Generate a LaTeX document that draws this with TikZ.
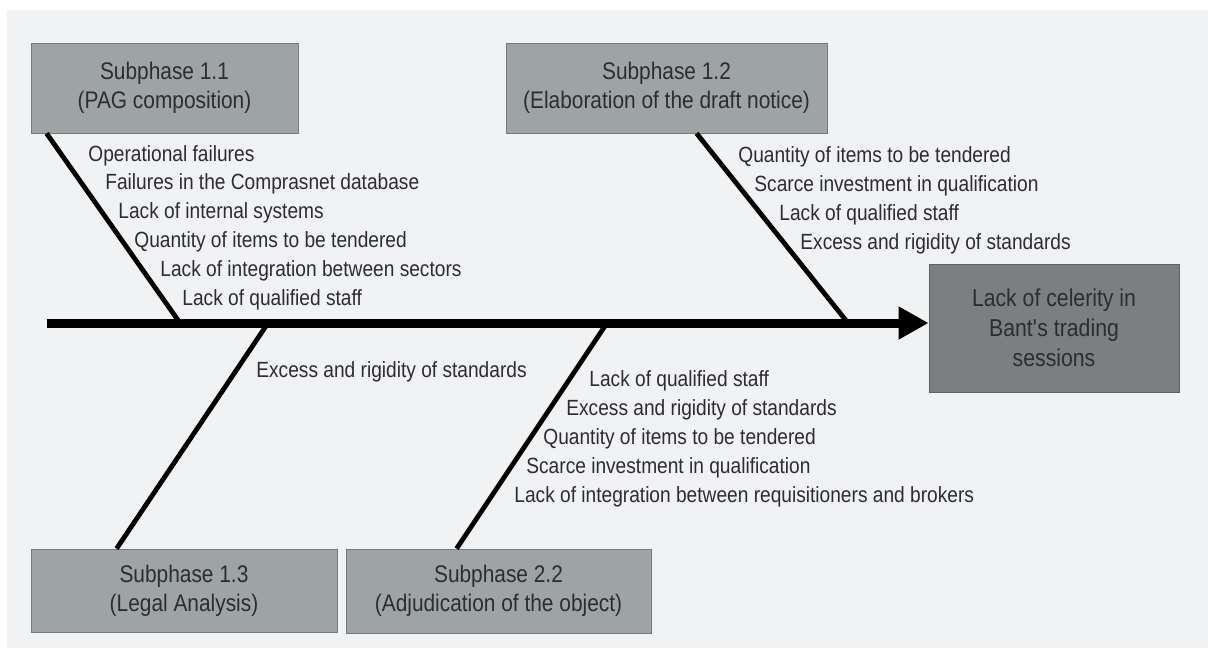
\documentclass[tikz,border=0pt]{standalone}
\usepackage{fontspec}
\setmainfont{Liberation Sans}[FakeStretch=0.87]
\usepackage{tikz}
\usetikzlibrary{arrows.meta, calc}
\usepackage{xcolor}
\definecolor{panel}{RGB}{241,242,244}
\definecolor{boxgray}{RGB}{158,163,163}
\definecolor{boxline}{RGB}{118,122,123}
\definecolor{effgray}{RGB}{124,127,128}
\definecolor{effline}{RGB}{95,98,98}
\definecolor{inkgray}{RGB}{45,45,47}

\begin{document}
\begin{tikzpicture}[
        x=0.5pt, y=-0.5pt,
        phase/.style={draw=boxline, fill=boxgray, inner sep=0pt, align=center,
                      text=inkgray, font=\fontsize{12}{14.5}\selectfont},
        effect/.style={draw=effline, fill=effgray, inner sep=0pt, align=center,
                       text=inkgray, font=\fontsize{12.2}{15}\selectfont,
                       minimum width=125pt, minimum height=64pt},
        cause/.style={anchor=west, inner sep=0pt, text=inkgray,
                      font=\fontsize{11}{13}\selectfont},
        rib/.style={line width=2.4pt, black},
        spine/.style={line width=4.5pt, black,
                      -{Triangle[length=15pt, width=15.5pt]}}
      ]
        \useasboundingbox (0,0) rectangle (1208,648);
        \fill[white] (0,0) rectangle (1208,648);
        \fill[panel] (7,10) rectangle (1208,648);

        % subphase boxes and the effect
        \node[phase, minimum width=133.5pt, minimum height=45pt] (sub11)
          at (164.5,88) {Subphase 1.1\\(PAG composition)};
        \node[phase, minimum width=160.5pt, minimum height=45pt] (sub12)
          at (666.5,88) {Subphase 1.2\\(Elaboration of the draft notice)};
        \node[phase, minimum width=153pt, minimum height=41.5pt] (sub13)
          at (184,590.5) {Subphase 1.3\\(Legal Analysis)};
        \node[phase, minimum width=152.5pt, minimum height=42pt] (sub22)
          at (498.5,591) {Subphase 2.2\\(Adjudication of the object)};
        \node[effect] (effect) at (1054,328)
          {Lack of celerity in\\Bant\textquotesingle s trading\\sessions};

        % spine and the points where the ribs meet it
        \coordinate (tail) at (47,323);
        \coordinate (j11) at (180,323);
        \coordinate (j12) at (848,323);
        \coordinate (j13) at (268,323);
        \coordinate (j22) at (607,323);

        \draw[rib] ($(sub11.south west)+(16,0)$) -- (j11);
        \draw[rib] ($(sub12.south west)+(191,0)$) -- (j12);
        \draw[rib] ($(sub13.north west)+(86,0)$) -- (j13);
        \draw[rib] ($(sub22.north west)+(111,0)$) -- (j22);
        \draw[spine] (tail) -- (tail -| effect.west);

        % causes of subphase 1.1
        \node[cause] (c11a) at (88,156) {Operational failures};
        \node[cause] (c11b) at (105,184) {Failures in the Comprasnet database};
        \node[cause] (c11c) at (118,213) {Lack of internal systems};
        \node[cause] (c11d) at (134,242) {Quantity of items to be tendered};
        \node[cause] (c11e) at (160,271) {Lack of integration between sectors};
        \node[cause] (c11f) at (182,300) {Lack of qualified staff};

        % causes of subphase 1.2
        \node[cause] (c12a) at (738,157) {Quantity of items to be tendered};
        \node[cause] (c12b) at (754,186) {Scarce investment in qualification};
        \node[cause] (c12c) at (779,215) {Lack of qualified staff};
        \node[cause] (c12d) at (800,244) {Excess and rigidity of standards};

        % causes of subphase 1.3
        \node[cause] (c13a) at (256,372) {Excess and rigidity of standards};

        % causes of subphase 2.2
        \node[cause] (c22a) at (589,381) {Lack of qualified staff};
        \node[cause] (c22b) at (566,410) {Excess and rigidity of standards};
        \node[cause] (c22c) at (543,439) {Quantity of items to be tendered};
        \node[cause] (c22d) at (526,468) {Scarce investment in qualification};
        \node[cause] (c22e) at (514,497) {Lack of integration between requisitioners and brokers};
      \end{tikzpicture}
\end{document}
